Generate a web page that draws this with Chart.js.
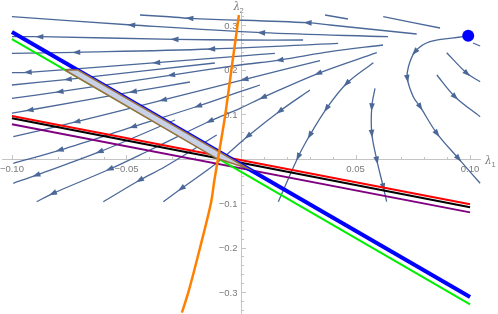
<!DOCTYPE html>
<html>
<head>
<meta charset="utf-8">
<script src="https://cdn.jsdelivr.net/npm/chart.js@4/dist/chart.umd.min.js"></script>
<style>
  html, body { margin: 0; padding: 0; background: #fff; }
</style>
</head>
<body>
<canvas id="grafico" width="498" height="314"></canvas>
<script>
// RANGO DE LOS EJES (unidades de datos)
const xMin = -0.1052, xMax = 0.1122;
const yMin = -0.3494, yMax = 0.3562;

// marcas y etiquetas de los ejes
const xTicks = [-0.1, -0.05, 0.05, 0.1];
const xTickLabels = ["\u22120.10", "\u22120.05", "0.05", "0.10"];
const yTicks = [0.3, 0.2, 0.1, -0.1, -0.2, -0.3];
const yTickLabels = ["0.3", "0.2", "0.1", "\u22120.1", "\u22120.2", "\u22120.3"];

// rectas
const lineaAzul = [[-0.1, 0.2845], [0.1, -0.311]];
const lineaVerde = [[-0.1, 0.2685], [0.1, -0.3276]];
const lineaRoja = [[-0.1, 0.0955], [0.1, -0.103]];
const lineaNegra = [[-0.1, 0.0903], [0.1, -0.1097]];
const lineaMorada = [[-0.1, 0.0768], [0.1, -0.121]];

// curva naranja
const curvaNaranja = [[-0.0009, 0.3225], [-0.0036, 0.2213], [-0.0070, 0.0939], [-0.0099, 0.0034],
  [-0.0116, -0.0483], [-0.0131, -0.1000], [-0.0179, -0.2011], [-0.0229, -0.2993], [-0.0258, -0.3465]];

// region sombreada entre verde y azul
const region = [[-0.0769, 0.1989], [-0.0712, 0.1989], [0.0031, -0.0225], [-0.0109, 0.0011], [-0.0769, 0.1989]];

// punto fijo
const punto = [[0.0992, 0.2760]];

// lineas de flujo (en el sentido del flujo)
const s1 = [[0.0869, 0.2933], [0.0621, 0.3187]];
const s2 = [[0.0467, 0.3135], [0.0367, 0.3225]];
const s3 = [[0.0767, 0.2798], [0.0389, 0.3000], [0.0293, 0.3052], [-0.0223, 0.3151], [-0.0332, 0.3191], [-0.0441, 0.3225]];
const s4 = [[0.0642, 0.2737], [0.0090, 0.2827], [-0.0477, 0.3000], [-0.1, 0.3187]];
const s5 = [[0.0271, 0.2663], [-0.0004, 0.2663], [-0.0288, 0.2679], [-0.0878, 0.2737], [-0.1, 0.2737]];
const s6 = [[0.0424, 0.2589], [-0.0128, 0.2461], [-0.0717, 0.2387], [-0.1, 0.2364]];
const s7 = [[0.0620, 0.2551], [0.0389, 0.2400], [0.0170, 0.2213], [-0.0004, 0.2101], [-0.0303, 0.1876], [-0.0790, 0.1501], [-0.1, 0.1353]];
const s8 = [[0.0148, 0.2364], [-0.0004, 0.2303], [-0.0368, 0.2153], [-0.0929, 0.1937], [-0.1, 0.1928]];
const s9 = [[-0.0114, 0.2146], [-0.0754, 0.1780], [-0.1, 0.1652]];
const s10 = [[0.0593, 0.2378], [0.0338, 0.1915], [0.0097, 0.1375], [-0.0004, 0.1128], [-0.0135, 0.0843],
  [-0.0397, 0.0191], [-0.0572, -0.0236], [-0.0820, -0.0782], [-0.0892, -0.0971]];
const s11 = [[0.0345, 0.2198], [0.0017, 0.1780], [-0.0339, 0.1315], [-0.0717, 0.0827], [-0.0994, 0.0490]];
const s12 = [[-0.0223, 0.1719], [-0.0470, 0.1501], [-0.0921, 0.1090], [-0.1, 0.1022]];
const s13 = [[0.0083, 0.1652], [-0.0004, 0.1501], [-0.0186, 0.1180], [-0.0470, 0.0715], [-0.0790, 0.0191], [-0.0994, -0.0108]];
const s14 = [[-0.0288, 0.0865], [-0.0616, 0.0153], [-0.0892, -0.0371], [-0.0994, -0.0557]];
const s15 = [[0.0301, 0.1539], [0.0170, 0.1067], [0.0031, 0.0506], [-0.0106, -0.0101], [-0.0259, -0.0670], [-0.0339, -0.0971]];
const s16 = [[-0.0106, 0.0528], [-0.0332, -0.0184], [-0.0441, -0.0483], [-0.0601, -0.0971]];
const s17 = [[0.0578, 0.2153], [0.0462, 0.1690], [0.0374, 0.1128], [0.0301, 0.0528], [0.0250, 0.0040], [0.0163, -0.0971]];
const s18 = [[0.0585, 0.1578], [0.0571, 0.1164], [0.0571, 0.0566], [0.0593, -0.0034], [0.0621, -0.0634], [0.0636, -0.0971]];
const s19 = [[0.0971, 0.2737], [0.0825, 0.2625], [0.0760, 0.2400], [0.0731, 0.2063], [0.0726, 0.1802],
  [0.0752, 0.1389], [0.0782, 0.1164], [0.0855, 0.0566], [0.0949, 0.0004], [0.1044, -0.0557]];
const s20 = [[0.0898, 0.2378], [0.0986, 0.1915], [0.1044, 0.1726]];
const s21 = [[0.0855, 0.1876], [0.0934, 0.1389], [0.1044, 0.0939]];
const s22 = [[0.1013, 0.2596], [0.1044, 0.2528]];

const lineasFlujo = [s1, s2, s3, s4, s5, s6, s7, s8, s9, s10, s11, s12, s13, s14, s15, s16, s17, s18, s19, s20, s21, s22];
// indices de los puntos donde va una flecha
const flechas = [[], [], [2, 3], [1, 2], [2, 3], [1, 2], [2, 4, 5], [2, 3], [1], [1, 2, 4, 6, 7], [1, 2, 3], [1, 2],
  [2, 3, 4], [1, 2], [1, 2, 4], [2], [1, 2, 3, 4], [1, 2, 3, 4], [2, 4, 6, 7, 8], [1], [1], []];

const colorFlujo = "#4b6899";

const aPuntos = (arr) => arr.map(p => ({ x: p[0], y: p[1] }));

function recta(datos, color, ancho, orden, tension) {
  return {
    data: aPuntos(datos),
    showLine: true,
    borderColor: color,
    borderWidth: ancho,
    pointRadius: 0,
    tension: tension || 0,
    order: orden
  };
}

const datasets = [];
datasets.push({ data: aPuntos(punto), pointRadius: 6, backgroundColor: "#0000ff", borderWidth: 0, order: 0 });
datasets.push(recta(curvaNaranja, "#ff8000", 2.5, 1, 0.3));
datasets.push(Object.assign(recta(region, "#9a7040", 1.5, 2), { fill: "shape", backgroundColor: "#c8d1e6" }));
datasets.push(recta(lineaAzul, "#0000ff", 4, 3));
datasets.push(recta(lineaVerde, "#00ee00", 2, 4));
datasets.push(recta(lineaMorada, "#800080", 2, 5));
datasets.push(recta(lineaNegra, "#000000", 2, 6));
datasets.push(recta(lineaRoja, "#ff0000", 2, 7));
lineasFlujo.forEach((s, i) => {
  const ds = recta(s, colorFlujo, 1.3, 10, 0.35);
  ds.flechas = flechas[i];
  datasets.push(ds);
});

// dibuja las puntas de flecha justo despues de cada linea de flujo
const flechasPlugin = {
  id: "flechas",
  afterDatasetDraw(chart, args) {
    const ds = chart.data.datasets[args.index];
    if (!ds.flechas || !ds.flechas.length) return;
    const pts = args.meta.data;
    const ctx = chart.ctx;
    ctx.save();
    ctx.fillStyle = ds.borderColor;
    ds.flechas.forEach(k => {
      const p = pts[k], a = pts[k - 1] || p, b = pts[k + 1] || p;
      let dx = b.x - a.x, dy = b.y - a.y;
      const len = Math.hypot(dx, dy) || 1;
      dx /= len; dy /= len;
      ctx.beginPath();
      ctx.moveTo(p.x + dx * 4.5, p.y + dy * 4.5);
      ctx.lineTo(p.x - dx * 3.5 - dy * 2.8, p.y - dy * 3.5 + dx * 2.8);
      ctx.lineTo(p.x - dx * 3.5 + dy * 2.8, p.y - dy * 3.5 - dx * 2.8);
      ctx.closePath();
      ctx.fill();
    });
    ctx.restore();
  }
};

// ejes cruzando en el origen, estilo Mathematica
const ejesPlugin = {
  id: "ejes",
  beforeDatasetsDraw(chart) {
    const { ctx, scales: { x, y } } = chart;
    const x0 = Math.round(x.getPixelForValue(0)) + 0.5;
    const y0 = Math.round(y.getPixelForValue(0)) + 0.5;
    ctx.save();
    ctx.strokeStyle = "#c4c4c4";
    ctx.lineWidth = 1;
    ctx.beginPath();
    ctx.moveTo(x.getPixelForValue(-0.1043), y0);
    ctx.lineTo(x.getPixelForValue(0.1048), y0);
    ctx.moveTo(x0, y.getPixelForValue(0.327));
    ctx.lineTo(x0, y.getPixelForValue(yMin));
    // marcas menores
    for (let i = -10; i <= 10; i++) {
      if (i % 5 === 0) continue;
      const px = Math.round(x.getPixelForValue(i / 100)) + 0.5;
      ctx.moveTo(px, y0); ctx.lineTo(px, y0 - 2.5);
    }
    for (let j = -17; j <= 16; j++) {
      if (j % 5 === 0) continue;
      const py = Math.round(y.getPixelForValue(j / 50)) + 0.5;
      ctx.moveTo(x0, py); ctx.lineTo(x0 + 2.5, py);
    }
    // marcas mayores
    xTicks.forEach(v => {
      const px = Math.round(x.getPixelForValue(v)) + 0.5;
      ctx.moveTo(px, y0); ctx.lineTo(px, y0 - 4.5);
    });
    yTicks.forEach(v => {
      const py = Math.round(y.getPixelForValue(v)) + 0.5;
      ctx.moveTo(x0, py); ctx.lineTo(x0 + 4.5, py);
    });
    ctx.stroke();

    ctx.fillStyle = "#7a7a7a";
    ctx.font = "9.5px 'Liberation Sans', Arial, sans-serif";
    ctx.textAlign = "center";
    ctx.textBaseline = "alphabetic";
    xTicks.forEach((v, i) => ctx.fillText(xTickLabels[i], x.getPixelForValue(v), y0 + 12.5));
    ctx.textAlign = "right";
    yTicks.forEach((v, i) => ctx.fillText(yTickLabels[i], x0 - 4, y.getPixelForValue(v) + 3.5));

    // nombres de los ejes
    ctx.textAlign = "left";
    ctx.font = "italic 10.5px 'DejaVu Serif', serif";
    ctx.fillText("\u03bb", x0 - 8, 10);
    ctx.fillText("\u03bb", 485, y0 + 4);
    ctx.font = "7.5px 'Liberation Sans', Arial, sans-serif";
    ctx.fillText("2", x0 - 2, 13);
    ctx.fillText("1", 491.5, y0 + 7);
    ctx.restore();
  }
};

new Chart(document.getElementById("grafico"), {
  type: "scatter",
  data: { datasets: datasets },
  options: {
    responsive: false,
    animation: false,
    layout: { padding: 0, autoPadding: false },
    plugins: { legend: { display: false }, tooltip: { enabled: false } },
    scales: {
      x: { type: "linear", min: xMin, max: xMax, display: false },
      y: { type: "linear", min: yMin, max: yMax, display: false }
    }
  },
  plugins: [ejesPlugin, flechasPlugin]
});
</script>
</body>
</html>
